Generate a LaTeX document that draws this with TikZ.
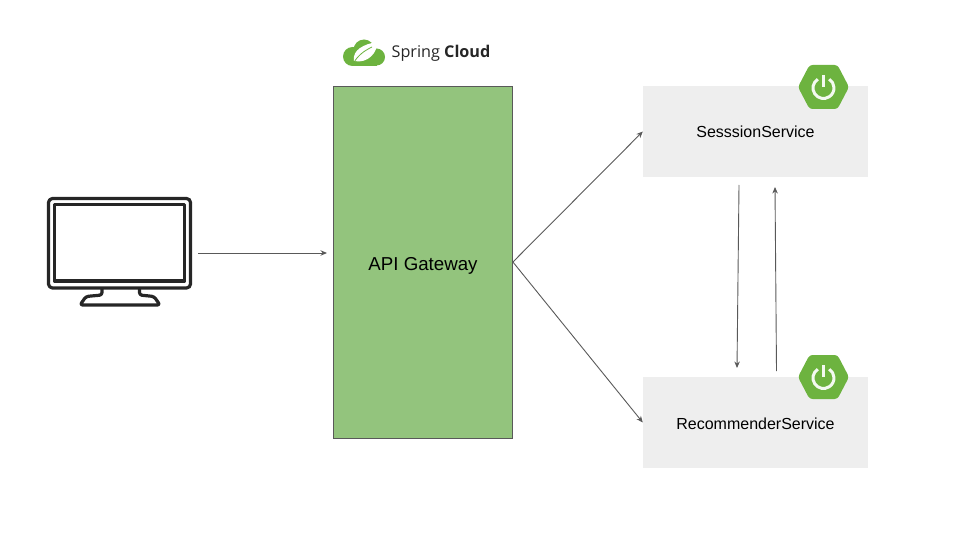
\documentclass[tikz,border=0pt]{standalone}
\usepackage{fontspec}
\setmainfont{Liberation Sans}
\newfontfamily\logofont{Open Sans}
\usetikzlibrary{arrows.meta,calc,positioning}
\definecolor{springgreen}{HTML}{6DB33F}
\definecolor{gatewaygreen}{HTML}{93C47D}
\definecolor{servicegrey}{HTML}{EEEEEE}
\definecolor{linegrey}{HTML}{595959}
\tikzset{
	service/.style={fill=servicegrey,minimum width=225pt,minimum height=91pt,inner sep=0pt,text height=16pt,text depth=3pt,font=\fontsize{16}{18}\selectfont},
	gateway/.style={draw=linegrey,line width=0.8pt,fill=gatewaygreen,minimum width=179pt,minimum height=352pt,inner sep=0pt,text height=20pt,text depth=4pt,font=\fontsize{18.7}{20}\selectfont},
	conn/.style={-{Stealth[length=6.5pt,width=5.5pt]},draw=linegrey,line width=0.9pt},
	monitorline/.style={draw=black!85,line width=3.2pt,line join=round},
	hexagon/.pic={
		\fill[springgreen,rounded corners=3pt] (-25.5,0) -- (-14,-22) -- (14,-22) -- (25.5,0) -- (14,22) -- (-14,22) -- cycle;
		\draw[white!92!springgreen,line width=3pt] (-5.8,-7.8) arc[start angle=236.6, end angle=-56.6, radius=10.5];
		\draw[white!92!springgreen,line width=3pt] (0,-12) -- (0,0);
	}
}
\begin{document}
\begin{tikzpicture}[x=1pt,y=-1pt]
	\useasboundingbox (0,0) rectangle (960,540);
	\node[gateway] (gw) at (423,262) {API Gateway};
	\node[service] (session) at (755.5,131.5) {SesssionService};
	\node[service] (recommender) at (755.5,422.5) {RecommenderService};
	% monitor
	\draw[monitorline,rounded corners=4pt] (48.5,198.5) rectangle (190.5,288);
	\draw[monitorline] (54.5,204.5) rectangle (184.5,281);
	\draw[monitorline,rounded corners=2.5pt] (102,289) -- (102,295) -- (86,296.5) -- (80,305) -- (160,305) -- (154,296.5) -- (139.5,295) -- (139.5,289);
	% spring cloud logo
	\fill[springgreen] (352.5,56.5) circle[radius=9.5];
	\fill[springgreen] (364,50) circle[radius=10.5];
	\fill[springgreen] (376.5,57) circle[radius=8.5];
	\fill[springgreen] (352,57) rectangle (377,66);
	\fill[white] (354,61) .. controls (352,50) and (364,44) .. (377,42) .. controls (378,52) and (368,64) .. (354,61) -- cycle;
	\draw[springgreen,line width=0.8pt] (353,64) .. controls (358,55) and (364,51) .. (372,47);
	\node[inner sep=0pt,text=black!85,font=\logofont\fontsize{16.2}{18}\selectfont] (logotext) at (441,53) {Spring \textbf{Cloud}};
	% power icons
	\pic at (823.5,87) {hexagon};
	\pic at (823.5,377) {hexagon};
	% connectors
	\coordinate (mon) at (198,253);
	\coordinate (gwin) at (327,253);
	\coordinate (sdown) at (739,185);
	\coordinate (rtop) at (737,368);
	\coordinate (rup) at (776.5,371);
	\coordinate (sup) at (775,187);
	\draw[conn] (mon) -- (gwin);
	\draw[conn] (gw.east) -- (session.west);
	\draw[conn] (gw.east) -- (recommender.west);
	\draw[conn] (sdown) -- (rtop);
	\draw[conn] (rup) -- (sup);
\end{tikzpicture}
\end{document}
